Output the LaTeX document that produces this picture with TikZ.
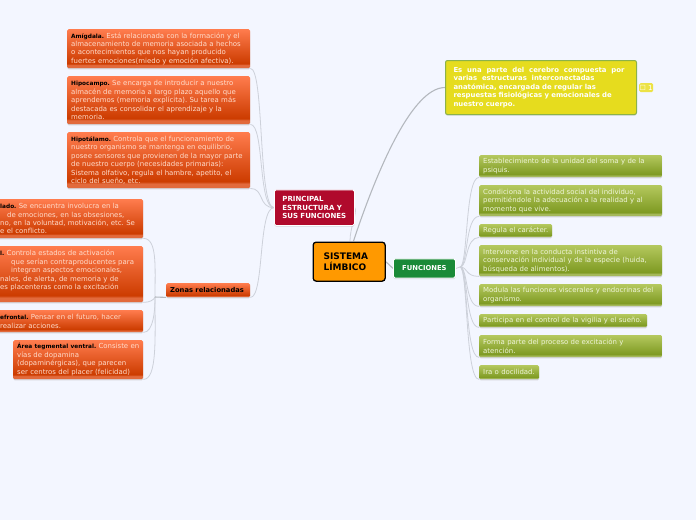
\documentclass[tikz,border=0pt]{standalone}
\usepackage{fontspec}
\setmainfont{DejaVu Sans}
\usetikzlibrary{shadows,backgrounds}
\definecolor{bgc}{HTML}{F3F6FF}
\definecolor{linec}{HTML}{CDD1DA}
\definecolor{linem}{HTML}{B4B8BE}
\definecolor{otxt}{HTML}{FFDCCB}
\definecolor{gtxt}{HTML}{EEF4D8}
\definecolor{o1}{HTML}{FF7C4E}
\definecolor{o2}{HTML}{CC3C00}
\definecolor{o3}{HTML}{E26A3C}
\definecolor{g1}{HTML}{B4C85E}
\definecolor{g2}{HTML}{7E9A22}
\definecolor{g3}{HTML}{A4B85A}
\pgfdeclareverticalshading{oshade}{100bp}{color(0bp)=(o3);color(29bp)=(o3);color(31bp)=(o2);color(75bp)=(o1);color(100bp)=(o1)}
\pgfdeclareverticalshading{gshade}{100bp}{color(0bp)=(g3);color(29bp)=(g3);color(31bp)=(g2);color(75bp)=(g1);color(100bp)=(g1)}
\tikzset{
  x=1pt,y=-1pt,
  shad/.style={drop shadow={shadow xshift=0pt,shadow yshift=-1.2pt,fill=black!45,opacity=.3}},
  base/.style={anchor=north west,inner xsep=4pt,inner ysep=0pt,rounded corners=1.5pt,align=left},
  smallf/.style={font=\fontsize{6.95}{8.45}\selectfont},
  obox/.style={base,shad,shading=oshade,text=otxt,smallf},
  gbox/.style={base,shad,shading=gshade,text=gtxt,smallf},
  conn/.style={draw=linec,line width=0.8pt},
  connm/.style={draw=linem,line width=1.1pt},
}
\newcommand{\bk}[1]{{\fontsize{5.8}{8.45}\selectfont\textbf{\textcolor{black}{#1}}}}
\newcommand{\bz}[1]{{\fontsize{6.75}{8.45}\selectfont\textbf{\textcolor{black}{#1}}}}
% style, name, x, y, w, h, text
\newcommand{\boxn}[7]{\node[#1,minimum width=#5pt,minimum height=#6pt,text width=#5pt-8pt] (#2) at (#3,#4) {#7};}
\newcommand{\lineo}[1]{\makebox[0pt][l]{#1}}
\begin{document}
\begin{tikzpicture}
\useasboundingbox (0,0) rectangle (696,520);
\begin{scope}[on background layer]
\fill[bgc] (0,0) rectangle (696,520);
\end{scope}

% named hubs
\coordinate (zh) at (155,297);
\coordinate (fh) at (460,267);
\coordinate (sp) at (350,241);
\coordinate (sy) at (353.5,241);

% boxes
\boxn{obox}{am}{67}{29}{183}{39}{\lineo{\bk{Amígdala.}\ Está relacionada con la formación y el}\\almacenamiento de memoria asociada a hechos\\o acontecimientos que nos hayan producido\\\lineo{fuertes emociones(miedo y emoción afectiva).}}
\boxn{obox}{hi}{67}{76}{183}{48}{\bk{Hipocampo.}\ Se encarga de introducir a nuestro\\almacén de memoria a largo plazo aquello que\\aprendemos (memoria explícita).\ Su tarea más\\destacada es consolidar el aprendizaje y la\\memoria.}
\boxn{obox}{ht}{67}{132}{183}{56}{\bk{Hipotálamo.}\ Controla que el funcionamiento de\\nuestro organismo se mantenga en equilibrio,\\\lineo{posee sensores que provienen de la mayor parte}\\de nuestro cuerpo (necesidades primarias):\\Sistema olfativo, regula el hambre, apetito, el\\ciclo del sueño, etc.}
\boxn{obox}{c1}{-8}{199}{151}{39}{\hspace*{4pt}\bk{lado.}\ Se encuentra involucra en la\\\hspace*{11pt}de emociones, en las obsesiones,\\\hspace*{4pt}no, en la voluntad, motivación, etc.\ Se\\\hspace*{4pt}e el conflicto.}
\boxn{obox}{c2}{-8}{246}{151}{56}{\hspace*{4pt}\bk{l.}\ Controla estados de activación\\\hspace*{15pt}que serían contraproducentes para\\\hspace*{15pt}integran aspectos emocionales,\\\hspace*{4pt}nales, de alerta, de memoria y de\\\hspace*{4pt}es placenteras como la excitación\\~}
\boxn{obox}{c3}{-8}{310}{151}{22}{\hspace*{4pt}\bk{efrontal.}\ Pensar en el futuro, hacer\\\hspace*{4pt}realizar acciones.}
\boxn{obox}{c4}{13}{340}{130}{39}{\lineo{\bk{Área tegmental ventral.}\ Consiste en}\\vías de dopamina\\(dopaminérgicas), que parecen\\ser centros del placer (felicidad)}
\boxn{obox}{zo}{166}{283}{84}{14}{\bz{Zonas relacionadas}}

\node[base,shad,fill={rgb,255:red,176;green,10;blue,44},draw=white,line width=.8pt,text=white,inner xsep=8pt,text width=64pt,minimum width=80pt,minimum height=35.5pt,font=\bfseries\fontsize{7}{8.5}\selectfont] (pr) at (274,189.5) {PRINCIPAL\\ESTRUCTURA Y\\SUS FUNCIONES};
\node[base,fill={rgb,255:red,255;green,153;blue,0},draw=black,line width=1.3pt,rounded corners=3pt,text=black,inner xsep=10.5pt,text width=51pt,minimum width=72pt,minimum height=39pt,font=\bfseries\fontsize{9}{11.3}\selectfont] (si) at (312.5,241.5) {SISTEMA\\LÍMBICO};
\node[base,shad,fill={rgb,255:red,26;green,138;blue,56},draw=white,line width=.8pt,text=white,inner xsep=0pt,align=center,minimum width=62pt,minimum height=19pt,font=\bfseries\fontsize{6.8}{8.5}\selectfont] (fu) at (393,258.5) {FUNCIONES};
\node[base,shad,fill={rgb,255:red,230;green,220;blue,30},draw={rgb,255:red,140;green,178;blue,74},line width=1pt,rounded corners=2pt,text=white,inner xsep=8pt,text width=175pt,minimum width=191pt,minimum height=54pt,font=\bfseries\fontsize{6.9}{8.45}\selectfont] (ye) at (445,60) {\makebox[171pt][l]{Es\hfill una\hfill parte\hfill del\hfill cerebro\hfill compuesta\hfill por}\\\makebox[141pt][l]{varias\hfill estructuras\hfill interconectadas}\\anatómica, encargada de regular las\\respuestas fisiológicas y emocionales de\\nuestro cuerpo.};
\node[base,fill={rgb,255:red,236;green,226;blue,70},text=white,inner xsep=0pt,align=center,minimum width=14pt,minimum height=9pt,font=\fontsize{7}{7}\selectfont] (ba) at (639,83) {☐ 1};

\boxn{gbox}{f1}{479}{155}{183}{22}{Establecimiento de la unidad del soma y de la\\psiquis.}
\boxn{gbox}{f2}{479}{185}{183}{31}{Condiciona la actividad social del individuo,\\permitiéndole la adecuación a la realidad y al\\momento que vive.}
\boxn{gbox}{f3}{479}{224}{73}{13}{\lineo{Regula el carácter.}}
\boxn{gbox}{f4}{479}{245}{183}{31}{Interviene en la conducta instintiva de\\\lineo{conservación individual y de la especie (huida,}\\búsqueda de alimentos).}
\boxn{gbox}{f5}{479}{284}{183}{22}{\lineo{Modula las funciones viscerales y endocrinas del}\\organismo.}
\boxn{gbox}{f6}{479}{314}{168}{13}{\lineo{Participa en el control de la vigilia y el sueño.}}
\boxn{gbox}{f7}{479}{335}{183}{22}{Forma parte del proceso de excitación y\\atención.}
\boxn{gbox}{f8}{479}{365}{60}{14}{\lineo{Ira o docilidad.}}

% connectors, behind the boxes
\begin{scope}[on background layer]
\draw[connm] (si.east) -- (fu.west);
\draw[conn] (fu.east) -- (fh);
\draw[connm] (sy) .. controls +(20,-60) and +(-35,0) .. (ye.west);
\draw[conn] (sp) .. controls +(0,-14) and +(3,4) .. (pr.east);
\foreach \n in {am,hi,ht}
  \draw[conn] (pr.west) .. controls +(-16,0) and +(14,0) .. (\n.south east);
\draw[conn] (pr.west) .. controls +(-16,0) and +(14,0) .. (zo.south east);
\draw[conn] (zh) .. controls +(0,-30) and +(14,0) .. (c1.south east);
\draw[conn] (zh) .. controls +(-1,3) and +(6,0) .. (c2.south east);
\draw[conn] (zh) .. controls +(0,14) and +(10,0) .. (c3.south east);
\draw[conn] (zh) .. controls +(0,40) and +(14,0) .. (c4.south east);
\draw[connm] (zh) -- (zo.south west);
\foreach \n in {f1,f2,f3,f4,f5,f6,f7,f8}
  \draw[conn] (fh) .. controls +(8,0) and +(-14,0) .. (\n.south west);
\end{scope}
\end{tikzpicture}
\end{document}
